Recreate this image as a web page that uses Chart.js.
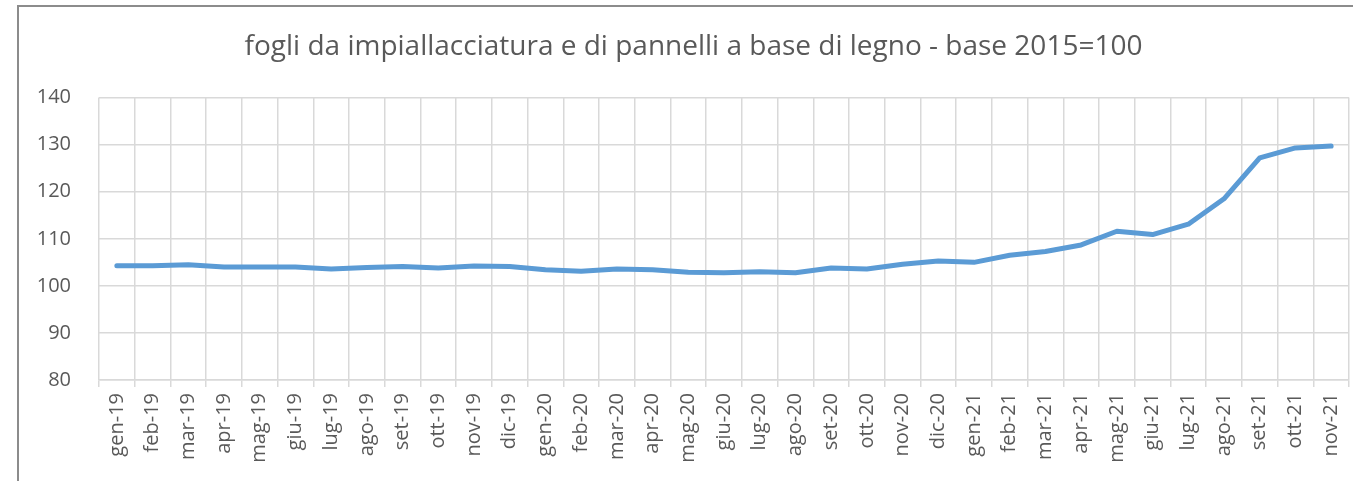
<!DOCTYPE html>
<html>
<head>
<meta charset="utf-8">
<script src="https://cdn.jsdelivr.net/npm/chart.js@4.4.1/dist/chart.umd.min.js"></script>
<style>
  html, body { margin: 0; padding: 0; background: #fff; }
  #wrap { position: relative; width: 1353px; height: 481px; }
  #frame {
    position: absolute; left: 17px; top: 5px; right: 0; bottom: 0;
    border-left: 2px solid #8c8c8c; border-top: 2px solid #8c8c8c;
    pointer-events: none;
  }
</style>
</head>
<body>
<div id="wrap">
  <canvas id="priceChart" width="1353" height="481"></canvas>
  <div id="frame"></div>
</div>
<script>
const titleText = 'fogli da impiallacciatura e di pannelli a base di legno - base 2015=100';

const months = [
  'gen-19', 'feb-19', 'mar-19', 'apr-19', 'mag-19', 'giu-19', 'lug-19', 'ago-19', 'set-19', 'ott-19', 'nov-19', 'dic-19',
  'gen-20', 'feb-20', 'mar-20', 'apr-20', 'mag-20', 'giu-20', 'lug-20', 'ago-20', 'set-20', 'ott-20', 'nov-20', 'dic-20',
  'gen-21', 'feb-21', 'mar-21', 'apr-21', 'mag-21', 'giu-21', 'lug-21', 'ago-21', 'set-21', 'ott-21', 'nov-21'
];

const indexValues = [
  104.3, 104.3, 104.5, 104.0, 104.0, 104.0, 103.6, 103.9, 104.1, 103.8, 104.2, 104.1,
  103.4, 103.1, 103.6, 103.4, 102.9, 102.8, 103.0, 102.8, 103.8, 103.6, 104.6, 105.3,
  105.0, 106.5, 107.3, 108.7, 111.6, 110.9, 113.1, 118.5, 127.2, 129.3, 129.7
];

const yMin = 80;
const yMax = 140;
const yStep = 10;

const textColor = '#595959';
const gridColor = '#d9d9d9';
const fontFamily = '"Open Sans", "Noto Sans", sans-serif';

const ctx = document.getElementById('priceChart');
new Chart(ctx, {
  type: 'line',
  data: {
    labels: months,
    datasets: [{
      label: titleText,
      data: indexValues,
      borderColor: '#5b9bd5',
      backgroundColor: '#5b9bd5',
      borderWidth: 5,
      borderCapStyle: 'round',
      borderJoinStyle: 'round',
      pointRadius: 0,
      tension: 0,
      fill: false,
    }],
  },
  options: {
    responsive: false,
    animation: false,
    layout: {
      padding: { left: 38, right: 4, top: 0, bottom: 0 },
    },
    plugins: {
      legend: { display: false },
      tooltip: { enabled: false },
      title: {
        display: true,
        text: titleText,
        color: textColor,
        font: { family: fontFamily, size: 28, weight: 'normal' },
        padding: { top: 30, bottom: 34 },
      },
    },
    scales: {
      x: {
        offset: true,
        grid: {
          offset: true,
          color: gridColor,
          lineWidth: 1.5,
          drawTicks: true,
          tickLength: 7,
          tickColor: gridColor,
        },
        border: { color: gridColor, width: 1.5 },
        ticks: {
          color: textColor,
          font: { family: fontFamily, size: 20 },
          minRotation: 90,
          maxRotation: 90,
          autoSkip: false,
          padding: 6,
        },
        // keep the plot area edge to edge, like the original
        afterFit: (scale) => {
          scale.height = 101;
          scale.paddingLeft = 0;
          scale.paddingRight = 0;
        },
      },
      y: {
        min: yMin,
        max: yMax,
        grid: {
          color: gridColor,
          lineWidth: 1.5,
          drawTicks: false,
        },
        border: { display: false },
        ticks: {
          stepSize: yStep,
          color: textColor,
          font: { family: fontFamily, size: 20 },
          padding: 28,
        },
        afterFit: (scale) => { scale.width = 61; },
      },
    },
  },
});
</script>
</body>
</html>
